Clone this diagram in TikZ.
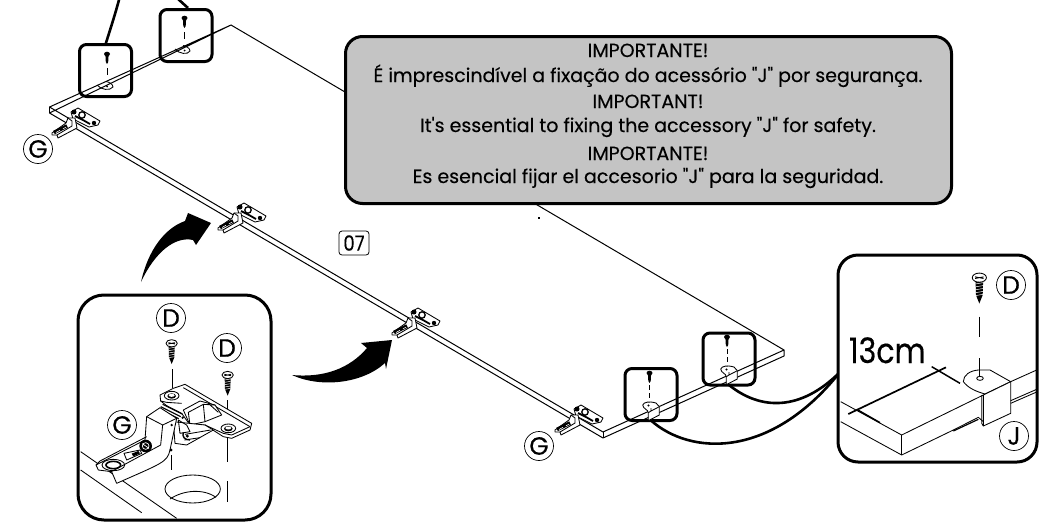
\documentclass[tikz,border=0pt]{standalone}
\usepackage{fontspec}
\setmainfont{Poppins}
\newfontfamily\ff[FakeStretch=.86,FakeBold=.25]{Poppins}
\newfontfamily\fm[FakeBold=.3]{Poppins}
\usetikzlibrary{shapes.geometric}
\definecolor{greybox}{RGB}{196,196,196}
\tikzset{
  x=1pt,y=-1pt,
  every node/.style={inner sep=0,outer sep=0},
  edge/.style={line width=1pt,black},
  thinl/.style={line width=.85pt,black,line join=round},
  conn/.style={line width=2.6pt,black},
  smallbox/.style={draw=black,line width=3pt,fill=white,rounded corners=7pt,minimum width=52,minimum height=52},
  bigbox/.style={draw=black,line width=3pt,fill=white,rounded corners=24pt},
  circ/.style={circle,draw=black,line width=.7pt,minimum size=29,font=\fm\fontsize{25}{25}\selectfont},
  msg/.style={anchor=base,font=\fm\fontsize{19}{20}\selectfont},
  dashl/.style={line width=.9pt,black},
  pics/hingeS/.style={code={
    \draw[thinl,fill=white] (-4,-8) -- (3,-12) -- (25,1) -- (23,5) -- (14,7) -- (6,3) -- (-2,-1) -- cycle;
    \fill[black] (-1,-8) circle (2.5) (19,3) circle (2.2) ;
    \draw[line width=1.3pt] (7,-5) circle (3.2);
    \draw[line width=1.8pt] (0,-4) -- (8,0) -- (15,4);
    \draw[thinl,fill=white] (-23,13) -- (-9,3) -- (-7,-2) -- (0,-2) -- (2,8) -- (-17,18) -- (-18,15) -- (-23,15) -- cycle;
    \draw[thinl] (-7,-2) -- (-3,1) -- (-3,6) -- (-18,15);
    \draw[line width=3.6pt] (-21,12.5) -- (-8,6);
    \draw[white,line width=.6pt] (-19,12.5) -- (-15,10.3) (-12,8.8) -- (-9,7.2);
  }},
  pics/screwS/.style={code={
    \fill[black] (0,0) ellipse [x radius=3,y radius=2.3];
    \fill[black] (-1.6,1) -- (1.6,1) -- (1.2,8) -- (0,10) -- (-1.2,8) -- cycle;
  }},
  pics/clipS/.style={code={
    \draw[thinl,fill=white] (-1.3,1) .. controls (0,-2) and (5,-3) .. (12,-1) -- (15.3,2.7) -- (15.3,11) -- (4.3,16.7) -- (4.3,8.7) .. controls (4.3,5.5) and (-1,5) .. (-1.3,1) -- cycle;
    \draw[thinl] (4.3,8.7) -- (7,7) -- (7,4) (7,7) -- (15.3,2.7);
    \fill (4.5,1.5) circle (1.1);
  }},
  pics/screwB/.style={code={
    \draw[thinl,fill=white] (0,0) ellipse [x radius=17,y radius=11];
    \draw[thinl] (-10,-2) -- (10,2) (-10,2) -- (10,-2);
    \fill[black] (-9,10) -- (9,10) -- (8,42) -- (0,62) -- (-8,42) -- cycle;
    \foreach \yy in {15,22,29,36,43}{\draw[white,line width=.5pt] (-9,\yy) -- (9,\yy-3);}
  }},
}
\begin{document}
\begin{tikzpicture}
\useasboundingbox (0,0) rectangle (1040,522);
% back edge
\draw[edge] (231,25) -- (784,350);
% message box
\node[draw=black,line width=3pt,fill=greybox,rounded corners=17pt,minimum width=606,minimum height=167] (msgbox) at (648.5,120) {};
\node[msg] (m1) at (648,57) {IMPORTANTE!};
\node[msg] (m2) at (648,82) {É imprescindível a fixação do acessório "J" por segurança.};
\node[msg] (m3) at (648,108) {IMPORTANT!};
\node[msg] (m4) at (648,132) {It's essential to fixing the accessory "J" for safety.};
\node[msg] (m5) at (648,160) {IMPORTANTE!};
\node[msg] (m6) at (648,183) {Es esencial fijar el accesorio "J" para la seguridad.};
\fill[black] (537.5,217) rectangle (539.5,218.5);
% small boxes
\node[smallbox] (b1) at (105.5,70.5) {};
\node[smallbox] (b2) at (186,35.5) {};
\node[smallbox] (b3) at (651,394.5) {};
\node[smallbox] (b4) at (729,359) {};
% connectors leaving the top of the page
\coordinate (t1) at (119.5,-2);
\coordinate (t2) at (177,-2);
\coordinate (s2) at (188,8);
\coordinate (e1) at (840,372);
\draw[conn] (b1.north) .. controls (110,30) and (115,15) .. (t1);
\draw[conn] (s2) -- (t2);
\draw[conn] (b3.south) .. controls (690,455) and (770,460) .. (e1);
\draw[conn] (b4.south) .. controls (760,410) and (800,412) .. (e1);
% board
\draw[edge,line join=round] (231,25) -- (49.5,107) -- (603,432) -- (784,350) -- (784,356) -- (603,438) -- (49.5,113) -- cycle;
\draw[edge] (49.5,107) -- (49.5,113) (603,432) -- (603,438);
% contents of small top boxes
\pic at (107,54) {screwS};
\draw[dashl] (107,68) -- (107,75);
\draw[thinl] (97,85) .. controls (101,90) and (110,91) .. (113,87) .. controls (113,84) and (109,82) .. (106,81.5);
\fill (107,86.5) circle (1);
\pic at (184.5,18) {screwS};
\draw[dashl] (184.5,32) -- (184.5,39);
\draw[thinl] (175,49) .. controls (179,54) and (188,55) .. (190,51) .. controls (190,48) and (186,46) .. (183,45.5);
\fill (184.5,50.5) circle (1);
% clips in the lower small boxes
\pic at (649.5,373) {screwS};
\draw[dashl,dash pattern=on 5pt off 3pt] (649.5,385) -- (649.5,400);
\pic at (644,404) {clipS};
\pic at (727,337) {screwS};
\draw[dashl,dash pattern=on 5pt off 3pt] (727,349) -- (727,365);
\pic at (722,368) {clipS};
% mini hinges
\pic at (75,120) {hingeS};
\pic at (241,215) {hingeS};
\pic at (415,320) {hingeS};
\pic at (578,417) {hingeS};
% labels on the board
\node[circ] (g1) at (38,149) {G};
\node[circ] (g2) at (539,446) {G};
\node[draw=black,line width=.8pt,rounded corners=3pt,minimum width=30,minimum height=24,font=\ff\fontsize{21}{21}\selectfont] (step07) at (354,243) {07};
% curved arrows
\fill[black] (141,282) .. controls (148,250) and (165,228) .. (185,221) -- (188,213) -- (211,223) -- (196,245) -- (193,240) .. controls (175,236) and (155,252) .. (141,282) -- cycle;
\fill[black] (292,375) .. controls (320,388) and (362,384) .. (385,363) -- (386,369) -- (392,340) -- (361,343) -- (367,348) .. controls (350,368) and (325,378) .. (292,375) -- cycle;
% left inset
\node[bigbox,minimum width=193,minimum height=225,rounded corners=26pt] (il) at (174.5,407.5) {};
\begin{scope}[shift={(60,290)},x=.33333pt,y=-.33333pt]
\clip (0,0) rectangle (640,690);
\draw[thinl] (62,485) -- (350,685);
\draw[thinl] (62,540) -- (245,668);
\draw[thinl] (398,597) ellipse [x radius=83,y radius=42];
\draw[thinl] (330,627) .. controls (370,600) and (430,595) .. (468,622);
\draw[dashl] (503,445) -- (503,515) (503,573) -- (503,635) (336,237) -- (336,295) (503,330) -- (503,375);
\pic at (335,160) {screwB};
\pic at (503,255) {screwB};
\end{scope}
% hinge of the left inset
\begin{scope}[shift={(90,375)},x=.33333pt,y=-.33333pt]
% plate
\draw[thinl,fill=white] (210,60) -- (250,40) -- (285,28) -- (485,145) -- (480,165) -- (425,190) -- (400,185) -- (345,150) -- (300,150) -- (275,115) -- (230,92) -- (212,78) -- cycle;
\draw[thinl] (280,38) -- (480,155);
\draw[thinl] (212,78) -- (230,82) -- (275,85) (345,150) -- (400,175) -- (425,180) -- (480,155);
\draw[thinl] (245,62) ellipse [x radius=22,y radius=13];
\fill[black] (245,63) ellipse [x radius=13,y radius=8];
\fill[white] (245,61) ellipse [x radius=9,y radius=4.5];
\draw[thinl] (415,160) ellipse [x radius=22,y radius=13];
\fill[black] (415,161) ellipse [x radius=13,y radius=8];
\fill[white] (415,159) ellipse [x radius=9,y radius=4.5];
% cup opening
\draw[thinl,fill=white] (280,105) -- (330,78) -- (375,90) -- (395,120) -- (345,140) -- (300,150) -- cycle;
\draw[thinl] (300,150) -- (295,112) -- (340,88) -- (375,90) (340,88) -- (345,140) (355,85) -- (385,112);
% cup underside
\draw[thinl,fill=white] (250,140) -- (345,150) -- (370,165) -- (290,210) -- (255,205) -- cycle;
\draw[thinl] (285,178) -- (362,165) (283,195) -- (330,188);
\draw[line width=1.4pt] (280,172) .. controls (275,185) and (285,195) .. (300,195);
\fill[black] (292,183) circle (5);
\draw[thinl] (265,135) -- (290,150) -- (300,170) -- (270,175) -- cycle;
\fill[black] (278,128) circle (4);
% ribs
\draw[line width=1.1pt] (218,88) -- (278,118) (212,95) -- (272,125) (206,101) -- (266,131);
% arm
\draw[thinl,fill=white] (170,125) -- (210,98) -- (260,130) -- (240,225) .. controls (232,262) and (215,265) .. (80,325) -- (65,290) -- (25,285) -- (18,270) -- (165,195) -- cycle;
\draw[thinl] (170,125) -- (218,150) -- (212,210) -- (60,292);
\draw[thinl] (218,150) -- (260,130);
\draw[thinl] (18,270) -- (30,258) -- (170,185);
\fill[black] (243,225) circle (5);
\fill[black] (245,150) circle (4);
\draw[dashl] (245,240) -- (245,285);
% arm details
\draw[thinl] (70,270) ellipse [x radius=34,y radius=17];
\draw[line width=1.6pt] (70,270) ellipse [x radius=22,y radius=11];
\fill[black] (167,213) circle (19);
\draw[white,line width=.7pt] (167,213) circle (10) (157,206) -- (177,220);
\draw[thinl] (102,235) -- (150,225) -- (155,235) -- (110,255) -- cycle;
\fill[black] (125,236) -- (145,228) -- (150,235) -- (130,244) -- cycle;
\end{scope}
\node[circ] (d1) at (171,318) {D};
\node[circ] (d2) at (227,348) {D};
\node[circ] (g3) at (122,425) {G};
% right inset
\node[bigbox,minimum width=199,minimum height=207,rounded corners=20pt] (ir) at (937.5,358.5) {};
\begin{scope}[shift={(820,240)},x=.33333pt,y=-.33333pt]
\draw[thinl] (62,485) -- (245,585) -- (490,465);
\draw[thinl] (62,545) -- (245,645) -- (400,570);
\draw[thinl] (245,585) -- (245,645);
\draw[line width=1.2pt] (400,573) -- (475,538);
\draw[thinl] (400,570) -- (475,532) -- (490,545);
\draw[thinl,fill=white] (430,425) .. controls (430,405) and (450,392) .. (475,390) -- (510,390) -- (572,425) -- (495,462) .. controls (470,455) and (445,445) .. (430,425) -- cycle;
\draw[thinl] (480,415) ellipse [x radius=10,y radius=6];
\draw[thinl,fill=white] (490,465) -- (572,425) -- (572,520) -- (490,558) -- cycle;
\draw[thinl] (485,465) -- (485,550) -- (490,558);
\draw[thinl] (572,425) -- (650,390) (572,482) -- (650,448) (572,490) -- (650,456);
\draw[line width=1.5pt] (110,508) -- (180,548) (335,380) -- (420,430);
\draw[line width=1.7pt] (85,522) -- (378,382);
\draw[dashl] (478,230) -- (478,292) (478,355) -- (478,412);
\pic[scale=1.25] at (478,113) {screwB};
\end{scope}
\node[anchor=base west,font=\ff\fontsize{35}{35}\selectfont] (dim) at (849,363) {13cm};
\node[circ] (d3) at (1011,285) {D};
\node[circ] (j1) at (1014,436) {J};
\end{tikzpicture}
\end{document}
